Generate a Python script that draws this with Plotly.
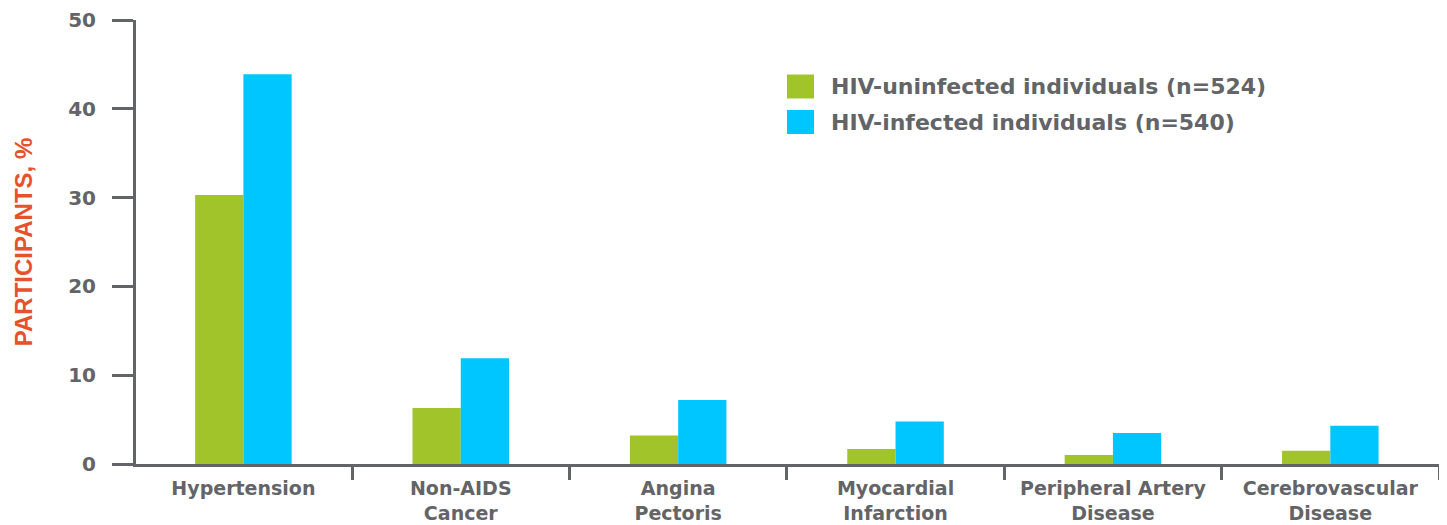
import plotly.graph_objects as go

categories = ["Hypertension", "Non-AIDS<br>Cancer", "Angina<br>Pectoris", "Myocardial<br>Infarction",
              "Peripheral Artery<br>Disease", "Cerebrovascular<br>Disease"]
uninfected = [30.3, 6.3, 3.2, 1.7, 1.0, 1.5]
infected = [43.9, 11.9, 7.2, 4.8, 3.5, 4.3]
series_names = ["HIV-uninfected individuals (n=524)", "HIV-infected individuals (n=540)"]
y_ticks = [0, 10, 20, 30, 40, 50]

GREEN = "#a0c42a"
BLUE = "#00c6ff"
GRAY = "#636467"
FONT = "DejaVu Sans"

# page body has an 8px margin; figure sized to fit the 1447x525 window
W, H = 1439, 517
ML, MT, MR, MB = 128, 12, 8, 61
PW, PH = W - ML - MR, H - MT - MB

fig = go.Figure()
fig.add_trace(go.Bar(x=categories, y=uninfected, name=series_names[0], marker_color=GREEN,
                     marker_line_width=0, showlegend=False))
fig.add_trace(go.Bar(x=categories, y=infected, name=series_names[1], marker_color=BLUE,
                     marker_line_width=0, showlegend=False))

# manual legend (page pixel coords converted to paper coords)
def px_x(x):
    return (x - 8 - ML) / PW

def px_y(y):
    return (H - MB - (y - 8)) / PH

for i, (nm, col) in enumerate(zip(series_names, [GREEN, BLUE])):
    yc = 86.5 + 35.5 * i
    fig.add_shape(type="rect", xref="paper", yref="paper",
                  x0=px_x(787), x1=px_x(814), y0=px_y(yc + 12), y1=px_y(yc - 12),
                  fillcolor=col, line_width=0)
    fig.add_annotation(xref="paper", yref="paper", x=px_x(829), y=px_y(yc),
                       text="<b>" + nm + "</b>", showarrow=False, xanchor="left", yanchor="middle",
                       font=dict(family=FONT, size=22, color=GRAY))

fig.update_layout(
    width=W, height=H,
    margin=dict(l=ML, r=MR, t=MT, b=MB, autoexpand=False),
    plot_bgcolor="white", paper_bgcolor="white",
    barmode="group", bargap=0.556, bargroupgap=0,
    font=dict(family=FONT, color=GRAY),
    xaxis=dict(
        type="category", range=[-0.494, 5.5], showline=True, linecolor=GRAY, linewidth=3,
        ticks="outside", tickson="boundaries", ticklen=13, tickwidth=3, tickcolor=GRAY,
        ticklabelstandoff=5,
        tickfont=dict(family=FONT, size=19, color=GRAY, weight="bold"),
        showgrid=False, zeroline=False, automargin=False,
    ),
    yaxis=dict(
        range=[0, 50], tickvals=y_ticks, showline=True, linecolor=GRAY, linewidth=3,
        ticks="outside", ticklen=21, tickwidth=3, tickcolor=GRAY, ticklabelstandoff=12,
        tickfont=dict(family=FONT, size=20, color=GRAY, weight="bold"),
        showgrid=False, zeroline=False, automargin=False,
        title=dict(text="PARTICIPANTS, %",
                   font=dict(family="Liberation Sans", size=24, color="#e5522c", weight="bold"),
                   standoff=29),
    ),
)

fig.write_html("out.html")
